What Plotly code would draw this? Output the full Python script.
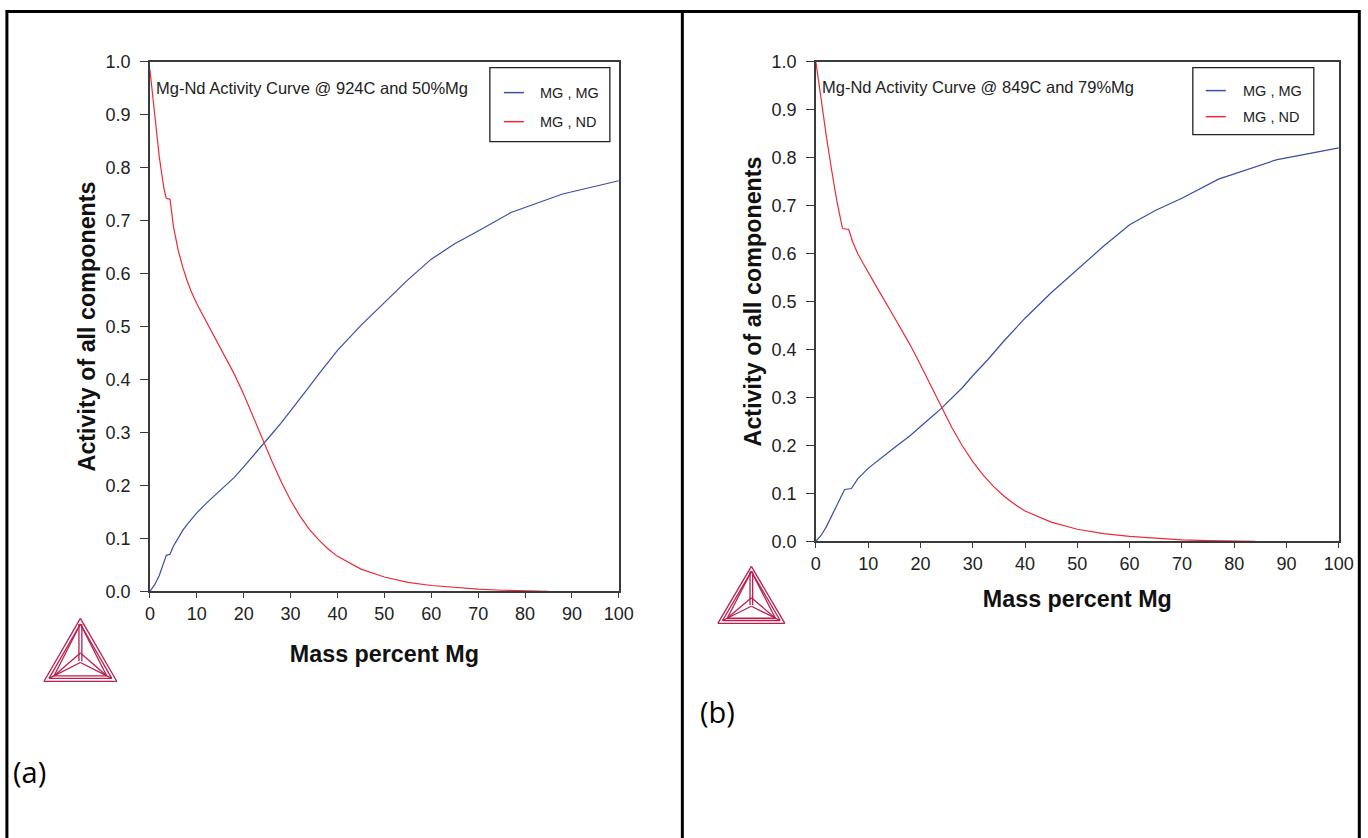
import plotly.graph_objects as go

# ---------------- data ----------------
ticks_x = [0, 10, 20, 30, 40, 50, 60, 70, 80, 90, 100]
ticks_y = [0.0, 0.1, 0.2, 0.3, 0.4, 0.5, 0.6, 0.7, 0.8, 0.9, 1.0]

# panel (a): 924C and 50%Mg
a_mg_x = [0, 1, 2, 3, 3.5, 4.3, 5, 6, 7, 8, 10, 12, 15, 18, 20, 22, 24, 26, 28, 30, 33, 36, 40, 45, 50, 55, 60, 65, 70, 77, 88, 100]
a_mg_y = [0, 0.012, 0.03, 0.055, 0.068, 0.07, 0.085, 0.1, 0.115, 0.127, 0.148, 0.166, 0.19, 0.215, 0.235, 0.255, 0.275, 0.297, 0.318, 0.34, 0.375, 0.41, 0.455, 0.502, 0.545, 0.588, 0.627, 0.656, 0.68, 0.715, 0.75, 0.775]
a_nd_x = [0, 1, 2, 3, 3.5, 4.3, 5, 6, 7, 8, 9, 10, 12, 15, 18, 20, 22, 24, 26, 28, 30, 32, 34, 36, 38, 40, 45, 50, 55, 60, 65, 70, 75, 80, 85]
a_nd_y = [0.985, 0.9, 0.82, 0.76, 0.742, 0.74, 0.69, 0.645, 0.612, 0.585, 0.562, 0.543, 0.51, 0.462, 0.41, 0.372, 0.33, 0.287, 0.246, 0.207, 0.172, 0.142, 0.117, 0.097, 0.08, 0.066, 0.042, 0.027, 0.017, 0.011, 0.007, 0.004, 0.002, 0.001, 0.0]

# panel (b): 849C and 79%Mg
b_mg_x = [0, 1, 2, 3, 4, 5, 5.5, 6.8, 8, 10, 12, 15, 18, 20, 22, 24, 26, 28, 30, 33, 36, 40, 45, 50, 55, 60, 65, 70, 77, 88, 100]
b_mg_y = [0, 0.012, 0.03, 0.052, 0.075, 0.098, 0.108, 0.11, 0.13, 0.152, 0.17, 0.195, 0.22, 0.24, 0.258, 0.277, 0.298, 0.32, 0.345, 0.38, 0.418, 0.465, 0.518, 0.567, 0.615, 0.66, 0.69, 0.715, 0.755, 0.795, 0.82]
b_nd_x = [0, 1, 2, 3, 4, 5.1, 6.3, 7, 8, 9, 10, 12, 15, 18, 20, 22, 24, 26, 28, 30, 32, 34, 36, 38, 40, 45, 50, 55, 60, 65, 70, 75, 80, 84]
b_nd_y = [1.0, 0.92, 0.845, 0.775, 0.71, 0.652, 0.65, 0.625, 0.6, 0.58, 0.56, 0.523, 0.467, 0.41, 0.368, 0.324, 0.279, 0.237, 0.199, 0.166, 0.138, 0.114, 0.094, 0.077, 0.063, 0.04, 0.025, 0.016, 0.01, 0.006, 0.003, 0.0015, 0.0005, 0.0]

series_names = ["MG , MG", "MG , ND"]
titles = ["Mg-Nd Activity Curve @ 924C and 50%Mg", "Mg-Nd Activity Curve @ 849C and 79%Mg"]
panel_labels = ["(a)", "(b)"]
x_title = "Mass percent Mg"
y_title = "Activity of all components"

# ---------------- styling / placement ----------------
FW, FH = 1392, 862          # figure a bit larger than the window; body margin removed below
AX, BX = 0.9857, 4.1        # empirical screen placement correction
AY, BY = 0.9754, 10.5
BLUE = "#3a4ea6"
RED = "#ec2a3c"
LOGO = "#b81e4e"
FONT = "Liberation Sans, Arial, sans-serif"


def px(x):
    return ((x - BX) / AX) / FW


def py(y):
    return 1 - ((y - BY) / AY) / FH


def pxt(x):  # direct page-pixel placement
    return x / FW


def pyt(y):
    return 1 - y / FH


fig = go.Figure()

panels = [
    dict(xa="x", ya="y", mg=(a_mg_x, a_mg_y), nd=(a_nd_x, a_nd_y)),
    dict(xa="x2", ya="y2", mg=(b_mg_x, b_mg_y), nd=(b_nd_x, b_nd_y)),
]

for p in panels:
    fig.add_trace(go.Scatter(x=p["mg"][0], y=p["mg"][1], mode="lines", name=series_names[0],
                             line=dict(color=BLUE, width=1.2), xaxis=p["xa"], yaxis=p["ya"],
                             showlegend=False, cliponaxis=False))
    fig.add_trace(go.Scatter(x=p["nd"][0], y=p["nd"][1], mode="lines", name=series_names[1],
                             line=dict(color=RED, width=1.2), xaxis=p["xa"], yaxis=p["ya"],
                             showlegend=False, cliponaxis=False))

axis_common = dict(showgrid=False, zeroline=False, showline=True, mirror=True,
                   linecolor="#3a3a3a", linewidth=1.5, ticks="outside",
                   tickwidth=1.2, tickcolor="#3a3a3a",
                   tickfont=dict(family=FONT, size=18, color="#222"))

title_font = dict(family=FONT, size=23.3, color="#111", weight="bold")

fig.update_layout(
    width=FW, height=FH, margin=dict(l=0, r=0, t=0, b=0),
    paper_bgcolor="white", plot_bgcolor="white", showlegend=False,
    xaxis=dict(domain=[px(149), px(618)], range=[0, 100], tickvals=ticks_x, anchor="y", ticklen=5,
               title=dict(text=x_title, font=title_font, standoff=23), **axis_common),
    yaxis=dict(domain=[py(591), py(62)], range=[0, 1], tickvals=ticks_y, tickformat=".1f", anchor="x",
               ticklen=8, ticklabelstandoff=6,
               title=dict(text=y_title, font=title_font, standoff=3), **axis_common),
    xaxis2=dict(domain=[px(815), px(1338)], range=[0, 100], tickvals=ticks_x, anchor="y2", ticklen=5,
                title=dict(text=x_title, font=title_font, standoff=18), **axis_common),
    yaxis2=dict(domain=[py(541), py(62)], range=[0, 1], tickvals=ticks_y, tickformat=".1f", anchor="x2",
                ticklen=8, ticklabelstandoff=6,
                title=dict(text=y_title, font=title_font, standoff=3), **axis_common),
)

shapes = []
annotations = []

# outer frame and divider
shapes.append(dict(type="rect", xref="paper", yref="paper", x0=px(6), x1=px(1358.5),
                   y0=-0.05, y1=pyt(1.6), line=dict(color="black", width=3)))
shapes.append(dict(type="line", xref="paper", yref="paper", x0=px(681.5), x1=px(681.5),
                   y0=-0.05, y1=pyt(1.6), line=dict(color="black", width=3)))

# chart titles (inside plot)
for (tx, ty), t in zip([(153, 88), (819, 87)], titles):
    annotations.append(dict(text=t, xref="paper", yref="paper", x=px(tx), y=py(ty),
                            xanchor="left", yanchor="middle", showarrow=False,
                            font=dict(family=FONT, size=16.5, color="#222")))

# manual legends
legends = [
    dict(bx0=489, bx1=609, by0=68, by1=142, lx0=503, lx1=523, tx=537, ys=[93, 122]),
    dict(bx0=1192, bx1=1313, by0=68, by1=135, lx0=1205, lx1=1225, tx=1240, ys=[91, 117]),
]
for lg in legends:
    shapes.append(dict(type="rect", xref="paper", yref="paper", x0=px(lg["bx0"]), x1=px(lg["bx1"]),
                       y0=py(lg["by1"]), y1=py(lg["by0"]), line=dict(color="#222", width=1.3),
                       fillcolor="white"))
    for yy, col, name in zip(lg["ys"], [BLUE, RED], series_names):
        shapes.append(dict(type="line", xref="paper", yref="paper", x0=px(lg["lx0"]), x1=px(lg["lx1"]),
                           y0=py(yy), y1=py(yy), line=dict(color=col, width=1.5)))
        annotations.append(dict(text=name, xref="paper", yref="paper", x=px(lg["tx"]), y=py(yy),
                                xanchor="left", yanchor="middle", showarrow=False,
                                font=dict(family=FONT, size=14.5, color="#222")))

# panel labels
for (tx, ty), t in zip([(10, 771), (697, 711)], panel_labels):
    annotations.append(dict(text=t, xref="paper", yref="paper", x=px(tx), y=py(ty),
                            xanchor="left", yanchor="middle", showarrow=False,
                            font=dict(family="Open Sans, Noto Sans, sans-serif", size=29, color="black")))


# Thermo-Calc style logo drawn with lines
def logo(cx, top, w, h):
    def P(u, v):
        return (px(cx + u * w), py(top + v * h))
    segs = []
    tri = [(0, 0), (-0.5, 1), (0.5, 1)]
    tri2 = [(0, 0.09), (-0.43, 0.95), (0.43, 0.95)]
    for t in (tri, tri2):
        for i in range(3):
            segs.append((t[i], t[(i + 1) % 3]))
    c = (0, 0.7)
    segs += [((-0.02, 0.09), (-0.02, 0.68)), ((0.02, 0.09), (0.02, 0.68)),
             (c, (-0.43, 0.95)), (c, (0.43, 0.95)),
             ((0, 0.55), (-0.36, 0.91)), ((0, 0.55), (0.36, 0.91)),
             ((-0.36, 0.91), (0.36, 0.91)), ((0, 0.09), (-0.36, 0.91)), ((0, 0.09), (0.36, 0.91))]
    out = []
    for a, b in segs:
        x0, y0 = P(*a)
        x1, y1 = P(*b)
        out.append(dict(type="line", xref="paper", yref="paper", x0=x0, y0=y0, x1=x1, y1=y1,
                        line=dict(color=LOGO, width=1.3)))
    return out


shapes += logo(79.5, 618, 73, 63)
shapes += logo(750.5, 566, 67, 57)

fig.update_layout(shapes=shapes, annotations=annotations)
fig.write_html("out.html", config={"displayModeBar": False},
               post_script="document.body.style.margin='0';document.body.style.padding='0';"
                           "document.body.style.overflow='hidden';"
                           "document.documentElement.style.overflow='hidden';")
